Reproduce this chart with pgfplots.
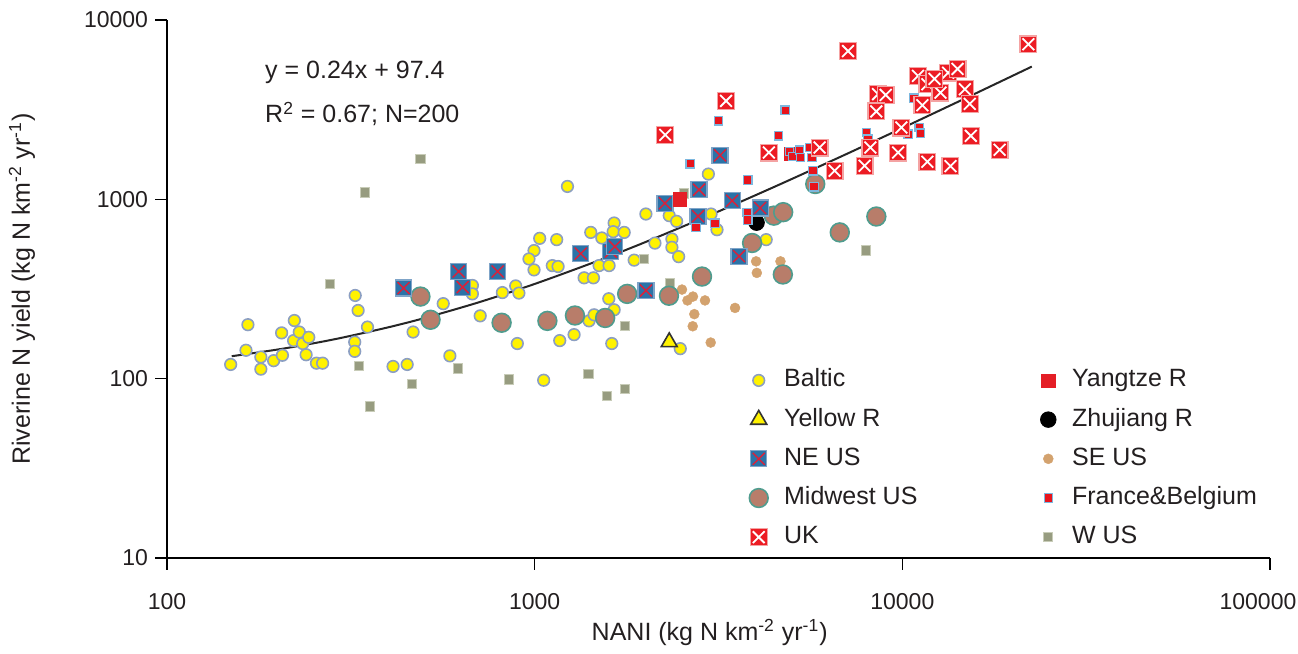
\documentclass[border=0pt]{standalone}
\usepackage{pgfplots}
\pgfplotsset{compat=1.18}
\usepackage{fontspec}
\setmainfont{Liberation Sans}
\definecolor{txt}{HTML}{231F20}
\definecolor{baltfill}{HTML}{FFF200}
\definecolor{baltedge}{HTML}{8C9FC2}
\definecolor{midfill}{HTML}{B87D6A}
\definecolor{midedge}{HTML}{4F9C8E}
\definecolor{nefill}{HTML}{2B73A8}
\definecolor{needge}{HTML}{7FA4C8}
\definecolor{nex}{HTML}{D9213A}
\definecolor{ukfill}{HTML}{EC1C24}
\definecolor{ukedge}{HTML}{F4A3A3}
\definecolor{yangfill}{HTML}{E41E26}
\definecolor{sefill}{HTML}{D3A26E}
\definecolor{fbfill}{HTML}{E8141C}
\definecolor{fbedge}{HTML}{7DB7DE}
\definecolor{wfill}{HTML}{979C80}
\definecolor{wedge}{HTML}{C8CCB8}
\pgfdeclareplotmark{nebox}{%
  \pgfsetlinewidth{0.6pt}%
  \pgfpathrectangle{\pgfqpoint{-\pgfplotmarksize}{-\pgfplotmarksize}}{\pgfqpoint{2\pgfplotmarksize}{2\pgfplotmarksize}}%
  \pgfsetfillcolor{nefill}\pgfsetstrokecolor{needge}%
  \pgfusepath{fill,stroke}%
  \pgfsetlinewidth{0.75pt}\pgfsetstrokecolor{nex}%
  \pgfpathmoveto{\pgfqpoint{-0.75\pgfplotmarksize}{-0.75\pgfplotmarksize}}%
  \pgfpathlineto{\pgfqpoint{0.75\pgfplotmarksize}{0.75\pgfplotmarksize}}%
  \pgfpathmoveto{\pgfqpoint{-0.75\pgfplotmarksize}{0.75\pgfplotmarksize}}%
  \pgfpathlineto{\pgfqpoint{0.75\pgfplotmarksize}{-0.75\pgfplotmarksize}}%
  \pgfusepath{stroke}%
}
\pgfdeclareplotmark{ukbox}{%
  \pgfsetlinewidth{0.6pt}%
  \pgfpathrectangle{\pgfqpoint{-\pgfplotmarksize}{-\pgfplotmarksize}}{\pgfqpoint{2\pgfplotmarksize}{2\pgfplotmarksize}}%
  \pgfsetfillcolor{ukfill}\pgfsetstrokecolor{ukedge}%
  \pgfusepath{fill,stroke}%
  \pgfsetlinewidth{0.9pt}\pgfsetstrokecolor{white}%
  \pgfpathmoveto{\pgfqpoint{-0.7\pgfplotmarksize}{-0.7\pgfplotmarksize}}%
  \pgfpathlineto{\pgfqpoint{0.7\pgfplotmarksize}{0.7\pgfplotmarksize}}%
  \pgfpathmoveto{\pgfqpoint{-0.7\pgfplotmarksize}{0.7\pgfplotmarksize}}%
  \pgfpathlineto{\pgfqpoint{0.7\pgfplotmarksize}{-0.7\pgfplotmarksize}}%
  \pgfusepath{stroke}%
}
\pgfplotsset{
  baltic/.style={only marks, mark=*, mark size=2.9pt, mark options={fill=baltfill, draw=baltedge, line width=0.8pt}},
  yellowr/.style={only marks, mark=triangle*, mark size=4.6pt, mark options={fill=baltfill, draw=black!80, line width=0.8pt}},
  neus/.style={only marks, mark=nebox, mark size=4pt},
  midwest/.style={only marks, mark=*, mark size=4.7pt, mark options={fill=midfill, draw=midedge, line width=0.8pt}},
  uk/.style={only marks, mark=ukbox, mark size=4.2pt},
  yangtze/.style={only marks, mark=square*, mark size=3.3pt, mark options={fill=yangfill, draw=yangfill, line width=0.3pt}},
  zhujiang/.style={only marks, mark=*, mark size=3.9pt, mark options={fill=black, draw=black}},
  seus/.style={only marks, mark=*, mark size=2.5pt, mark options={fill=sefill, draw=sefill, line width=0.2pt}},
  fb/.style={only marks, mark=square*, mark size=2.1pt, mark options={fill=fbfill, draw=fbedge, line width=0.6pt}},
  wus/.style={only marks, mark=square*, mark size=2.3pt, mark options={fill=wfill, draw=wedge, line width=0.5pt}},
}
\begin{document}
\begin{tikzpicture}
\path[use as bounding box] (-83.5pt,-48pt) rectangle (565.5pt,279pt);
\begin{axis}[
  scale only axis, width=551.5pt, height=269pt,
  xmode=log, ymode=log,
  xmin=100, xmax=100000, ymin=10, ymax=10000,
  axis lines*=left,
  axis line style={line width=0.8pt, black},
  xtick={100,1000,10000,100000}, xticklabels={100,1000,10000,\hspace*{-12pt}100000},
  ytick={10,100,1000,10000}, yticklabels={10,100,1000,10000},
  xminorticks=false, yminorticks=false,
  tick align=outside, major tick length=6pt,
  tick style={black, line width=0.6pt},
  ticklabel style={font=\fontsize{11.5}{13}\selectfont, text=txt},
  xticklabel style={yshift=-8pt},
  every axis x label/.style={at={(axis description cs:0.492,-0.139)}, anchor=center, font=\fontsize{12.5}{15}\selectfont, text=txt},
  every axis y label/.style={at={(axis description cs:-0.1315,0.5)}, rotate=90, anchor=center, font=\fontsize{12.5}{15}\selectfont, text=txt},
  xlabel={NANI (kg N km\textsuperscript{-2} yr\textsuperscript{-1})},
  ylabel={Riverine N yield (kg N km\textsuperscript{-2} yr\textsuperscript{-1})},
  clip=false,
  legend columns=2,
  legend style={at={(axis description cs:0.5276,0.3596)}, anchor=north west, draw=none, fill=none,
    font=\fontsize{12.5}{15}\selectfont, text=txt, inner sep=0pt, row sep=4.1pt,
    nodes={inner sep=2pt, text height=9pt, text depth=2.5pt},
    /tikz/every odd column/.append style={column sep=6pt},
    /tikz/every even column/.append style={column sep=59.5pt}},
  legend cell align=left,
]
% Baltic
\addplot[baltic, forget plot] coordinates {
(149,120) (164,144) (166,200) (180,132) (180,113) (195,126) (205,180) (206,135)
(221,163) (222,211) (229,182) (234,157) (243,170) (239,136) (255,122) (265,122)
(325,291) (331,240) (351,194) (324,160) (324,142) (412,117) (450,120) (467,182)
(564,262) (588,134) (711,224) (897,157) (1058,98) (1170,163) (1280,176) (1406,210)
(1451,227) (1591,279) (1645,242) (1621,157) (1865,458) (817,302) (888,329) (906,300)
(677,331) (677,297) (1228,1180) (1032,606) (1148,596) (996,518) (965,465) (996,404)
(1117,427) (1158,422) (1421,654) (1523,609) (1645,738) (1635,660) (1752,654) (2007,828)
(2124,570) (1497,427) (1594,427) (1363,365) (1445,365) (2489,147) (4263,596) (2968,1383)
(2323,811) (2433,754) (2362,601) (2362,540) (2464,479) (3018,828) (3133,677)
};
% W US
\addplot[wus, forget plot] coordinates {
(278,338) (333,118) (464,93) (357,70) (489,1683) (346,1093) (620,114) (851,99)
(1401,106) (1572,80) (1762,88) (1759,196) (1988,465) (2337,340) (2542,1079) (7983,518)
};
% Yellow R
\addplot[yellowr, forget plot] coordinates {(2323,160)};
% SE US
\addplot[seus, forget plot] coordinates {
(2516,314) (2604,273) (2695,287) (2906,273) (2718,229) (2691,196) (3012,159)
(3508,248) (4002,451) (4020,389) (4662,451)
};
% Zhujiang R
\addplot[zhujiang, forget plot] coordinates {(4014,741)};
% Midwest US
\addplot[midwest, forget plot] coordinates {
(489,287) (521,213) (813,205) (1083,210) (1287,225) (1555,218) (1785,297) (2319,290)
(2852,371) (3903,571) (4732,381) (4472,811) (4742,848) (5797,1217) (6759,654) (8498,802)
};
% NE US
\addplot[neus, forget plot] coordinates {
(440,320) (621,396) (637,324) (793,396) (1335,498) (1612,511) (1652,545) (2007,310)
(2261,951) (2799,1131) (2782,805) (3193,1760) (3444,982) (3597,482) (4104,895)
};
% Yangtze R
\addplot[yangtze, forget plot] coordinates {(2484,1001) (4986,1794)};
% France & Belgium
\addplot[fb, forget plot] coordinates {
(3160,2738) (4802,3141) (4605,2259) (2650,1579) (3800,1281) (4932,1848) (5038,1733)
(5252,1881) (5284,1711) (5591,1945) (5677,1711) (5712,1443) (5748,1175) (3783,846)
(3800,767) (2747,698) (3095,736) (7983,2357) (8067,2165) (10760,3663) (11110,2513)
(11200,2339) (10370,2309)
};
% UK
\addplot[uk, forget plot] coordinates {
(7116,6714) (22020,7316) (3316,3539) (2266,2289) (4335,1824) (5955,1945) (6544,1443)
(7897,1538) (8185,1945) (9736,1824) (11700,1619) (13520,1532) (15360,2259) (18390,1889)
(8589,3857) (9009,3822) (8498,3093) (11030,4875) (11700,4382) (13320,5085) (14130,5333)
(14790,4111) (12700,3936) (11340,3348) (15260,3405) (9940,2513) (12230,4691)
};
% regression line y = 0.24x + 97.4
\addplot[smooth, line width=1pt, color=black!85, forget plot] coordinates {
(150,133.4) (200,145.4) (250,157.4) (300,169.4) (400,193.4) (500,217.4) (700,265.4)
(1000,337.4) (1500,457.4) (2000,577.4) (3000,817.4) (4000,1057.4) (5000,1297.4)
(7000,1777.4) (10000,2497.4) (15000,3697.4) (22500,5497.4)
};
\node[anchor=west, font=\fontsize{12.5}{15}\selectfont, text=txt] at (axis cs:177,5129) {y = 0.24x + 97.4};
\node[anchor=west, font=\fontsize{12.5}{15}\selectfont, text=txt] at (axis cs:177,2994) {R\textsuperscript{2} = 0.67; N=200};
% legend (row-wise order for two columns)
\addlegendimage{baltic}\addlegendentry{Baltic}
\addlegendimage{yangtze}\addlegendentry{Yangtze R}
\addlegendimage{yellowr}\addlegendentry{Yellow R}
\addlegendimage{zhujiang}\addlegendentry{Zhujiang R}
\addlegendimage{neus}\addlegendentry{NE US}
\addlegendimage{seus}\addlegendentry{SE US}
\addlegendimage{midwest}\addlegendentry{Midwest US}
\addlegendimage{fb}\addlegendentry{France\&Belgium}
\addlegendimage{uk}\addlegendentry{UK}
\addlegendimage{wus}\addlegendentry{W US}
\end{axis}
\end{tikzpicture}
\end{document}
